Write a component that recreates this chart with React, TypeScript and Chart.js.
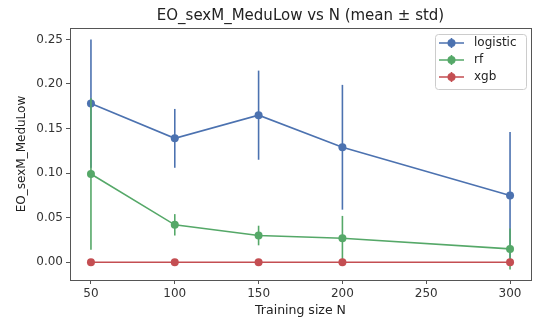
import React, { useEffect, useRef } from "react";
import { Chart, registerables } from "chart.js";

Chart.register(...registerables);

const trainingSizes = [50, 100, 150, 200, 300];
const logisticMean = [0.178, 0.139, 0.165, 0.129, 0.075];
const logisticStd = [0.072, 0.033, 0.05, 0.07, 0.071];
const rfMean = [0.099, 0.042, 0.030, 0.027, 0.015];
const rfStd = [0.085, 0.012, 0.011, 0.025, 0.023];
const xgbMean = [0, 0, 0, 0, 0];
const xgbStd = [0, 0, 0, 0, 0];
const xTicks = [50, 100, 150, 200, 250, 300];
const yTicks = [0, 0.05, 0.1, 0.15, 0.2, 0.25];
const seriesNames = ["logistic", "rf", "xgb"];
const seriesColors = ["#4C72B0", "#55A868", "#C44E52"];

const FONT = "'DejaVu Sans', sans-serif";

export default function App() {
  const ref = useRef<HTMLCanvasElement>(null);
  useEffect(() => {
    const means = [logisticMean, rfMean, xgbMean];
    const stds = [logisticStd, rfStd, xgbStd];
    const datasets = seriesNames.map((name, i) => ({
      label: name,
      data: trainingSizes.map((x, j) => ({ x, y: means[i][j] })),
      borderColor: seriesColors[i],
      backgroundColor: seriesColors[i],
      borderWidth: 1.6,
      pointRadius: 4,
      pointHoverRadius: 4,
      pointBorderWidth: 0,
      showLine: true,
      order: 3 - i,
      tension: 0,
    }));

    const errPlugin = {
      id: "errbars",
      beforeDatasetDraw(chart: any, args: any) {
        const i = args.index;
        const ctx = chart.ctx;
        const xs = chart.scales.x;
        const ys = chart.scales.y;
        ctx.save();
        ctx.strokeStyle = seriesColors[i];
        ctx.lineWidth = 1.6;
        trainingSizes.forEach((xv, j) => {
          const s = stds[i][j];
          if (s <= 0) return;
          const px = xs.getPixelForValue(xv);
          ctx.beginPath();
          ctx.moveTo(px, ys.getPixelForValue(means[i][j] + s));
          ctx.lineTo(px, ys.getPixelForValue(means[i][j] - s));
          ctx.stroke();
        });
        ctx.restore();
      },
      afterDraw(chart: any) {
        const ctx = chart.ctx;
        const a = chart.chartArea;
        ctx.save();
        // frame
        ctx.strokeStyle = "#555";
        ctx.lineWidth = 1;
        ctx.strokeRect(Math.round(a.left) + 0.5, Math.round(a.top) + 0.5, Math.round(a.right - a.left), Math.round(a.bottom - a.top));
        // title
        ctx.fillStyle = "#222";
        ctx.font = `15px ${FONT}`;
        ctx.textAlign = "center";
        ctx.textBaseline = "middle";
        ctx.fillText("EO_sexM_MeduLow vs N (mean \u00b1 std)", (a.left + a.right) / 2, 16.5);
        // legend
        const bx = 435, by = 34, bw = 91, bh = 55;
        ctx.fillStyle = "rgba(255,255,255,0.85)";
        ctx.strokeStyle = "#ccc";
        ctx.lineWidth = 1;
        ctx.beginPath();
        (ctx as any).roundRect(bx + 0.5, by + 0.5, bw, bh, 3);
        ctx.fill();
        ctx.stroke();
        ctx.font = `12px ${FONT}`;
        ctx.textAlign = "left";
        seriesNames.forEach((n, i) => {
          const y = 43 + i * 17;
          ctx.strokeStyle = seriesColors[i];
          ctx.lineWidth = 1.6;
          ctx.beginPath();
          ctx.moveTo(439, y);
          ctx.lineTo(464, y);
          ctx.moveTo(451.5, y - 5);
          ctx.lineTo(451.5, y + 5);
          ctx.stroke();
          ctx.fillStyle = seriesColors[i];
          ctx.beginPath();
          ctx.arc(451.5, y, 4, 0, Math.PI * 2);
          ctx.fill();
          ctx.fillStyle = "#222";
          ctx.fillText(n, 474, y);
        });
        ctx.restore();
      },
    };

    const chart = new Chart(ref.current!, {
      type: "scatter",
      data: { datasets: datasets as any },
      options: {
        animation: false,
        responsive: false,
        layout: { padding: { top: 28, right: 9, left: 0, bottom: 0 } },
        plugins: { legend: { display: false }, title: { display: false }, tooltip: { enabled: false } },
        scales: {
          x: {
            type: "linear",
            min: 37.5,
            max: 312.5,
            afterBuildTicks: (s: any) => { s.ticks = xTicks.map((v) => ({ value: v })); },
            afterFit: (s: any) => { s.height = 44; },
            grid: { drawOnChartArea: false, drawTicks: true, tickLength: 4, color: "#555" },
            border: { display: false },
            ticks: { color: "#333", font: { family: FONT, size: 12 }, padding: 3, maxRotation: 0, callback: (v: any) => String(v) },
            title: { display: true, text: "Training size N", color: "#222", font: { family: FONT, size: 12.5 }, padding: { top: 2, bottom: 6 } },
          },
          y: {
            type: "linear",
            min: -0.0199,
            max: 0.2628,
            afterBuildTicks: (s: any) => { s.ticks = yTicks.map((v) => ({ value: v })); },
            afterFit: (s: any) => { s.width = 70; },
            grid: { drawOnChartArea: false, drawTicks: true, tickLength: 4, color: "#555" },
            border: { display: false },
            ticks: { color: "#333", font: { family: FONT, size: 12 }, padding: 3, callback: (v: any) => Number(v).toFixed(2) },
            title: { display: true, text: "EO_sexM_MeduLow", color: "#222", font: { family: FONT, size: 12 }, padding: { top: 15, bottom: 0 } },
          },
        },
      },
      plugins: [errPlugin],
    });
    return () => chart.destroy();
  }, []);
  return (
    <div style={{ position: "absolute", left: 0, top: 0, width: 540, height: 324, background: "#fff" }}>
      <canvas ref={ref} width={540} height={324} style={{ width: 540, height: 324 }} />
    </div>
  );
}
